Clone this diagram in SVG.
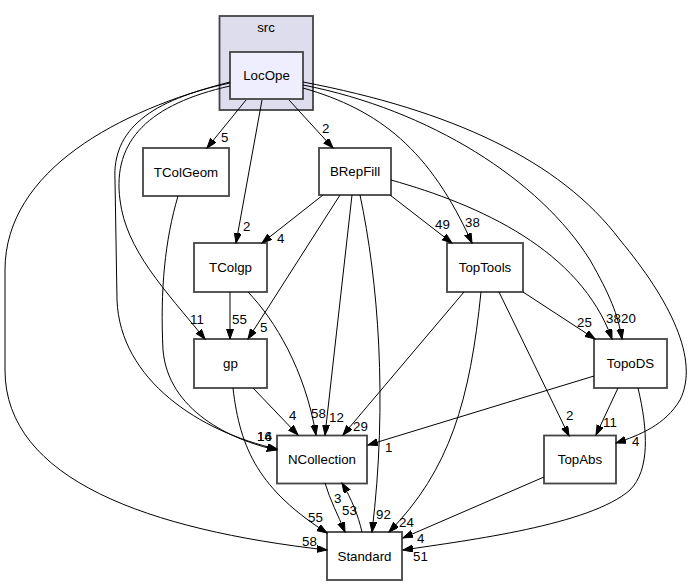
<svg xmlns="http://www.w3.org/2000/svg" width="694" height="585" viewBox="0 0 694 585">
<style>
.node rect{fill:#ffffff;stroke:#444444;stroke-width:1.8}
.cl{fill:#ddddee;stroke:#444444;stroke-width:1.8}
.nt{font-family:"Liberation Sans",Arial,sans-serif;font-size:13.3px;fill:#000000;text-anchor:middle}
.edges path{fill:none;stroke:#000000;stroke-width:1;marker-end:url(#ah)}
.lbl{font-family:"Liberation Sans",Arial,sans-serif;font-size:13.3px;fill:#000000}
</style>
<defs>
<marker id="ah" markerUnits="userSpaceOnUse" markerWidth="11" markerHeight="8" refX="10" refY="3.5" orient="auto">
<path d="M0,0 L10,3.5 L0,7 z" fill="#000000" stroke="#000000" stroke-width="1"/>
</marker>
</defs>
<rect width="694" height="585" fill="#ffffff"/>
<g id="cluster_src">
<rect class="cl" x="219.5" y="16" width="93.5" height="94"/>
<text class="nt" x="266" y="32">src</text>
</g>
<g id="node_LocOpe" class="node">
<rect x="230" y="52" width="73" height="47" style="fill:#eeeeff"/>
<text class="nt" x="266.5" y="80">LocOpe</text>
</g>
<g id="node_TColGeom" class="node">
<rect x="143" y="148" width="86" height="48"/>
<text class="nt" x="186" y="176.5">TColGeom</text>
</g>
<g id="node_BRepFill" class="node">
<rect x="319" y="148" width="72" height="47"/>
<text class="nt" x="355" y="176">BRepFill</text>
</g>
<g id="node_TColgp" class="node">
<rect x="194" y="243" width="73" height="49"/>
<text class="nt" x="230.5" y="272">TColgp</text>
</g>
<g id="node_gp" class="node">
<rect x="194" y="339" width="73" height="49"/>
<text class="nt" x="230.5" y="368">gp</text>
</g>
<g id="node_TopTools" class="node">
<rect x="447" y="243" width="76" height="49"/>
<text class="nt" x="485" y="272">TopTools</text>
</g>
<g id="node_TopoDS" class="node">
<rect x="594" y="339" width="73" height="49"/>
<text class="nt" x="630.5" y="368">TopoDS</text>
</g>
<g id="node_NCollection" class="node">
<rect x="277" y="435.5" width="90" height="48"/>
<text class="nt" x="322" y="464">NCollection</text>
</g>
<g id="node_TopAbs" class="node">
<rect x="544" y="435.5" width="72" height="48"/>
<text class="nt" x="580" y="464">TopAbs</text>
</g>
<g id="node_Standard" class="node">
<rect x="327" y="532" width="75" height="48"/>
<text class="nt" x="364.5" y="560.5">Standard</text>
</g>
<g id="edges" class="edges">
<path d="M246,100 L207,148"/>
<path d="M289,100 L333,148"/>
<path d="M262,100 L236,243"/>
<path d="M230,86 C150,104 112,140 120,200 C126,250 165,290 205,339"/>
<path d="M230,83 C150,100 112,130 115,180 L117,300 C120,380 200,432 277,449"/>
<path d="M178,196 C165,240 160,290 163,350 C168,410 230,440 277,450"/>
<path d="M230,82 C120,110 5,170 5,270 L5,370 C5,480 150,530 327,550"/>
<path d="M303,88 C380,110 430,150 472,243"/>
<path d="M303,85 C430,110 540,180 590,260 C610,295 618,315 622,339"/>
<path d="M391,180 C480,205 580,250 612,339"/>
<path d="M303,82 C450,110 560,160 620,240 C670,300 700,360 680,400 C665,425 640,435 616,443"/>
<path d="M323,195 L262,243"/>
<path d="M340,195 L248,339"/>
<path d="M352,195 L325,435"/>
<path d="M360,195 C378,280 388,400 372,532"/>
<path d="M390,195 L452,243"/>
<path d="M230,292 L230,339"/>
<path d="M248,292 C275,320 305,370 316,435"/>
<path d="M253,388 L298,435"/>
<path d="M233,388 C240,450 260,490 327,533"/>
<path d="M464,292 L343,435"/>
<path d="M481,292 C470,400 450,470 389,532"/>
<path d="M499,292 L569,436"/>
<path d="M523,292 L595,339"/>
<path d="M594,376 L368,445"/>
<path d="M618,388 L596,435"/>
<path d="M638,388 C648,430 650,470 630,490 C590,525 470,540 403,550"/>
<path d="M544,477 L403,538"/>
<path d="M325,483 C330,500 338,515 345,532"/>
<path d="M362,532 C358,515 352,500 342,483"/>
</g>
<g id="labels">
<text class="lbl" x="221" y="142">5</text>
<text class="lbl" x="322" y="133">2</text>
<text class="lbl" x="243" y="231">2</text>
<text class="lbl" x="190" y="324">11</text>
<text class="lbl" x="257" y="441">16</text>
<text class="lbl" x="257" y="441">14</text>
<text class="lbl" x="302" y="546">58</text>
<text class="lbl" x="465" y="227">38</text>
<text class="lbl" x="621" y="323">20</text>
<text class="lbl" x="606" y="323">38</text>
<text class="lbl" x="632" y="446">4</text>
<text class="lbl" x="277" y="243">4</text>
<text class="lbl" x="260" y="332">5</text>
<text class="lbl" x="329" y="422">12</text>
<text class="lbl" x="376" y="519">92</text>
<text class="lbl" x="435" y="229">49</text>
<text class="lbl" x="232" y="324">55</text>
<text class="lbl" x="311" y="418">58</text>
<text class="lbl" x="289" y="420">4</text>
<text class="lbl" x="308" y="522">55</text>
<text class="lbl" x="353" y="431">29</text>
<text class="lbl" x="399" y="527">24</text>
<text class="lbl" x="566" y="420">2</text>
<text class="lbl" x="577" y="327">25</text>
<text class="lbl" x="385" y="452">1</text>
<text class="lbl" x="603" y="427">11</text>
<text class="lbl" x="413" y="561">51</text>
<text class="lbl" x="417" y="543">4</text>
<text class="lbl" x="342" y="515">53</text>
<text class="lbl" x="334" y="503">3</text>
</g>
</svg>
